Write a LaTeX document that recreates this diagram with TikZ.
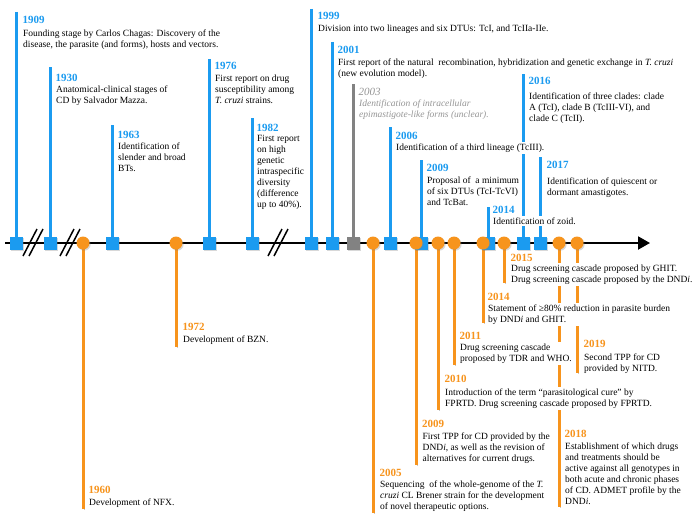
\documentclass[tikz,border=0pt]{standalone}
\usepackage{fontspec}
\setmainfont{Liberation Serif}
\usetikzlibrary{arrows.meta,shadows}
\definecolor{tblue}{RGB}{27,155,240}
\definecolor{torange}{RGB}{247,148,29}
\definecolor{tgrey}{RGB}{130,130,130}
\definecolor{tgreytxt}{RGB}{150,150,150}
\begin{document}
\begin{tikzpicture}[x=1pt,y=-1pt,
  shd/.style={preaction={draw=black!22,transform canvas={shift={(1.3pt,-1.3pt)}}}},
  bline/.style={shd,draw=tblue,line width=3pt},
  oline/.style={shd,draw=torange,line width=3pt},
  gline/.style={shd,draw=tgrey,line width=3pt},
  mshd/.style={drop shadow={shadow xshift=1.2pt,shadow yshift=-1.2pt,opacity=0.3}},
  bsq/.style={mshd,rectangle,fill=tblue,minimum size=13pt,inner sep=0pt},
  gsq/.style={mshd,rectangle,fill=tgrey,minimum size=13pt,inner sep=0pt},
  ocirc/.style={mshd,circle,fill=torange,minimum size=13pt,inner sep=0pt},
  yr/.style={anchor=base west,font=\fontsize{11}{13}\selectfont\bfseries,inner sep=0.5pt},
  byr/.style={yr,text=tblue},
  oyr/.style={yr,text=torange},
  txt/.style={anchor=base west,align=left,font=\fontsize{9.5}{11}\selectfont,inner xsep=1pt,inner ysep=1.5pt,fill=white},
  brk/.style={draw=black,line width=1.5pt}]
\useasboundingbox (0,0) rectangle (700,519);
\fill[white] (0,0) rectangle (700,519);

% axis
\coordinate (axs) at (5,243);
\coordinate (axe) at (650,243);
\draw[line width=2pt,-{Triangle[length=12pt,width=13pt]}] (axs) -- (axe);

% anchor points on axis
\foreach \n/\x in {1909/16,1930/50,1963/112,1976/209,1982/252,1999/311,2001/332,2003/353,2006/390,b2009/421,b2014/488,2016/523,2017/540,
  1960/83,1972/176,2005/373,o2009/416,2010/438,2011/454,o2014/483,2015/504,2018/559,2019/577}
  \coordinate (a\n) at (\x,243);

% top line ends
\coordinate (t1909) at (16,12);
\coordinate (t1930) at (50,67);
\coordinate (t1963) at (112,125);
\coordinate (t1976) at (209,59);
\coordinate (t1982) at (252,118);
\coordinate (t1999) at (311,9);
\coordinate (t2001) at (332,42);
\coordinate (t2003) at (353,84);
\coordinate (t2006) at (390,127);
\coordinate (tb2009) at (421,160);
\coordinate (tb2014) at (488,203);
\coordinate (t2016) at (523,74);
\coordinate (t2017) at (540,157);
% bottom line ends
\coordinate (t1960) at (83,509);
\coordinate (t1972) at (176,347);
\coordinate (t2005) at (373,513);
\coordinate (to2009) at (416,465);
\coordinate (t2010) at (438,410);
\coordinate (t2011) at (454,365);
\coordinate (to2014) at (483,323);
\coordinate (t2015) at (504,283);
\coordinate (t2018) at (559,507);
\coordinate (t2019) at (577,373);

% vertical lines
\foreach \n in {1909,1930,1963,1976,1982,1999,2001,2006,b2009,b2014,2017}
  \draw[bline] (t\n) -- (a\n);
\draw[gline] (t2003) -- (a2003);
\foreach \n in {1960,1972,2005,o2009,2010,2011,o2014,2015,2018,2019}
  \draw[oline] (a\n) -- (t\n);

% axis breaks
\foreach \c in {33,70,278}{
  \draw[brk] (\c-10,256) -- (\c+4,229);
  \draw[brk] (\c-4,256) -- (\c+10,229);
}

% top texts (anchor = baseline of last line)
\node[byr] (y1909) at (22,24) {1909};
\node[txt] (d1909) at (22,47.5) {Founding stage by Carlos Chagas: Discovery of the\\disease, the parasite (and forms), hosts and vectors.};
\node[byr] (y1930) at (55,81) {1930};
\node[txt] (d1930) at (55,103) {Anatomical-clinical stages of\\CD by Salvador Mazza.};
\node[byr] (y1963) at (117,138.5) {1963};
\node[txt] (d1963) at (117,171) {Identification of\\slender and broad\\BTs.};
\node[byr] (y1976) at (214,70) {1976};
\node[txt] (d1976) at (214,103.5) {First report on drug\\susceptibility among\\\textit{T. cruzi} strains.};
\node[byr] (y1982) at (256,131) {1982};
\node[txt] (d1982) at (256,207.5) {First report\\on high\\genetic\\intraspecific\\diversity\\(difference\\up to 40\%).};
\node[byr] (y1999) at (317,20) {1999};
\node[txt] (d1999) at (317,31) {Division into two lineages and six DTUs: TcI, and TcIIa-IIe.};
\node[byr] (y2001) at (337,53) {2001};
\node[txt] (d2001) at (337,76) {First report of the natural\ \ recombination, hybridization and genetic exchange in \textit{T. cruzi}\\(new evolution model).};
\node[yr,font=\fontsize{11}{13}\selectfont\itshape,text=tgreytxt] (y2003) at (358,95) {2003};
\node[txt,text=tgreytxt,font=\fontsize{9.5}{11}\selectfont\itshape] (d2003) at (358,117) {Identification of intracellular\\epimastigote-like forms (unclear).};
\draw[bline] (t2016) -- (a2016);
\node[byr] (y2006) at (395,139) {2006};
\node[txt] (d2006) at (395,150) {Identification of a third lineage (TcIII).};
\node[byr] (yb2009) at (426,171.5) {2009};
\node[txt] (db2009) at (426,205) {Proposal of\ \ a minimum\\of six DTUs (TcI-TcVI)\\and TcBat.};
\node[byr] (yb2014) at (492,213) {2014};
\node[txt] (db2014) at (492,224) {Identification of zoid.};
\node[byr] (y2016) at (528,84) {2016};
\node[txt] (d2016) at (528,121) {Identification of three clades: clade\\A (TcI), clade B (TcIII-VI), and\\clade C (TcII).};
\node[byr] (y2017) at (546,168.5) {2017};
\node[txt] (d2017) at (546,195.5) {Identification of quiescent or\\dormant amastigotes.};

% bottom texts
\node[oyr] (y1960) at (88,493) {1960};
\node[txt] (d1960) at (88,505) {Development of NFX.};
\node[oyr] (y1972) at (182,330) {1972};
\node[txt] (d1972) at (182,342) {Development of BZN.};
\node[oyr] (y2015) at (510,261) {2015};
\node[txt] (d2015) at (510,282.5) {Drug screening cascade proposed by GHIT.\\Drug screening cascade proposed by the DND\textit{i}.};
\node[oyr] (yo2014) at (487,300) {2014};
\node[txt] (do2014) at (487,322.5) {Statement of ≥80\% reduction in parasite burden\\by DND\textit{i} and GHIT.};
\node[oyr] (y2011) at (459,339) {2011};
\node[txt] (d2011) at (459,361) {Drug screening cascade\\proposed by TDR and WHO.};
\node[oyr] (y2019) at (583,347.5) {2019};
\node[txt] (d2019) at (583,371) {Second TPP for CD\\provided by NITD.};
\node[oyr] (y2010) at (444,382.5) {2010};
\node[txt] (d2010) at (444,406) {Introduction of the term “parasitological cure” by\\FPRTD. Drug screening cascade proposed by FPRTD.};
\node[oyr] (yo2009) at (421.5,427.5) {2009};
\node[txt] (do2009) at (421.5,461) {First TPP for CD provided by the\\DND\textit{i}, as well as the revision of\\alternatives for current drugs.};
\node[oyr] (y2018) at (564,437.5) {2018};
\node[txt] (d2018) at (564,504) {Establishment of which drugs\\and treatments should be\\active against all genotypes in\\both acute and chronic phases\\of CD. ADMET profile by the\\DND\textit{i}.};
\node[oyr] (y2005) at (379,476) {2005};
\node[txt] (d2005) at (379,509.5) {Sequencing\ \ of the whole-genome of the \textit{T.}\\\textit{cruzi} CL Brener strain for the development\\of novel therapeutic options.};

% markers
\foreach \n in {1909,1930,1963,1976,1982,1999,2001,2006,b2009,b2014,2016,2017}
  \node[bsq] (m\n) at (a\n) {};
\node[gsq] (m2003) at (a2003) {};
\foreach \n in {1960,1972,2005,o2009,2010,2011,o2014,2015,2018,2019}
  \node[ocirc] (m\n) at (a\n) {};
\end{tikzpicture}
\end{document}
